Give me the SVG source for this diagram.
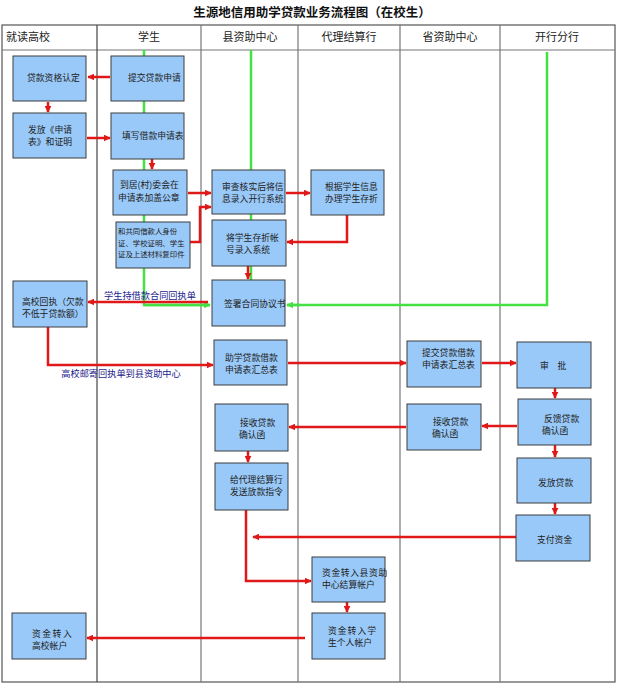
<svg xmlns="http://www.w3.org/2000/svg" width="624" height="690" viewBox="0 0 624 690">
<style>
.bg{fill:#fff}
.frame{stroke:#555;stroke-width:1.2;fill:none}
.div{stroke:#777;stroke-width:1.2}
.title{font-family:"Noto Sans CJK SC",sans-serif;font-size:12.5px;font-weight:bold;fill:#111}
.hd{font-family:"Noto Sans CJK SC",sans-serif;font-size:11px;fill:#222}
.box{fill:#99c9f8;stroke:#3c3c3c;stroke-width:1}
.t{font-family:"Noto Sans CJK SC",sans-serif;font-size:8.8px;fill:#222}
.ts{font-family:"Noto Sans CJK SC",sans-serif;font-size:7.4px;fill:#222}
.lbl{font-family:"Noto Sans CJK SC",sans-serif;font-size:9.2px;fill:#1c1c8c}
.r{stroke:#e01818;stroke-width:2.5;fill:none;marker-end:url(#ar)}
.g{stroke:#44e044;stroke-width:2.5;fill:none}
.ga{marker-end:url(#ag)}
</style>
<defs>
<marker id="ar" viewBox="0 0 10 10" refX="9" refY="5" markerWidth="7" markerHeight="7" orient="auto" markerUnits="userSpaceOnUse"><path d="M0,0 L10,5 L0,10 z" fill="#e01818"/></marker>
<marker id="ag" viewBox="0 0 10 10" refX="9" refY="5" markerWidth="7" markerHeight="7" orient="auto" markerUnits="userSpaceOnUse"><path d="M0,0 L10,5 L0,10 z" fill="#44e044"/></marker>
</defs>
<rect class="bg" x="0" y="0" width="624" height="690"/>
<text class="title" x="312" y="17" text-anchor="middle">生源地信用助学贷款业务流程图（在校生）</text>
<g id="table">
<rect class="frame" x="2" y="25" width="613" height="657"/>
<line class="div" x1="2" y1="50" x2="615" y2="50"/>
<line class="div" x1="97" y1="25" x2="97" y2="682" style="stroke:#444"/>
<line class="div" x1="201" y1="25" x2="201" y2="682"/>
<line class="div" x1="298" y1="25" x2="298" y2="682"/>
<line class="div" x1="400" y1="25" x2="400" y2="682"/>
<line class="div" x1="500" y1="25" x2="500" y2="682"/>
<text class="hd" x="6" y="41">就读高校</text>
<text class="hd" x="149" y="41" text-anchor="middle">学生</text>
<text class="hd" x="250" y="41" text-anchor="middle">县资助中心</text>
<text class="hd" x="349" y="41" text-anchor="middle">代理结算行</text>
<text class="hd" x="450" y="41" text-anchor="middle">省资助中心</text>
<text class="hd" x="557" y="41" text-anchor="middle">开行分行</text>
</g>
<g id="connectors">
<path class="g" d="M144,50 V305 H210"/>
<path class="g ga" d="M144,305 H210"/>
<path class="g" d="M251,50 V280"/>
<path class="g" d="M547,52 V305 H287"/>
<path class="g ga" d="M300,305 H287"/>
<path class="r" d="M110,77 H88"/>
<path class="r" d="M48,102 V112"/>
<path class="r" d="M87,138 H110"/>
<path class="r" d="M152,159 V169"/>
<path class="r" d="M188,193 H211"/>
<path class="r" d="M190,242 H200 V207 H211"/>
<path class="r" d="M286,193 H310"/>
<path class="r" d="M347,215 V242 H287"/>
<path class="r" d="M248,266 V279"/>
<path class="r" d="M208,302 H88"/>
<path class="r" d="M48,327 V365 H213"/>
<path class="r" d="M288,363 H406"/>
<path class="r" d="M482,363 H516"/>
<path class="r" d="M555,388 V398"/>
<path class="r" d="M517,426 H482"/>
<path class="r" d="M406,427 H289"/>
<path class="r" d="M248,451 V462"/>
<path class="r" d="M555,445 V457"/>
<path class="r" d="M555,503 V514"/>
<path class="r" d="M516,537 H253"/>
<path class="r" d="M246,510 V581 H311"/>
<path class="r" d="M347,602 V612"/>
<path class="r" d="M305,638 H87"/>
<text class="lbl" x="150" y="299" text-anchor="middle">学生持借款合同回执单</text>
<text class="lbl" x="121" y="377" text-anchor="middle">高校邮寄回执单到县资助中心</text>
</g>
<g id="n1"><rect class="box" x="13" y="56" width="73" height="45"/><text class="t" x="27" y="81">贷款资格认定</text></g>
<g id="n2"><rect class="box" x="13" y="113" width="73" height="45"/><text class="t" x="28" y="133">发放《申请</text><text class="t" x="28" y="145">表》和证明</text></g>
<g id="n3"><rect class="box" x="111" y="56" width="73" height="45"/><text class="t" x="128" y="81">提交贷款申请</text></g>
<g id="n4"><rect class="box" x="111" y="113" width="73" height="46"/><text class="t" x="122" y="139">填写借款申请表</text></g>
<g id="n5"><rect class="box" x="113" y="170" width="74" height="45"/><text class="t" x="120" y="188">到居(村)委会在</text><text class="t" x="118" y="200.5">申请表加盖公章</text></g>
<g id="n6"><rect class="box" x="116" y="222" width="74" height="46"/><text class="ts" x="118" y="234">和共同借款人身份</text><text class="ts" x="118" y="245.5">证、学校证明、学生</text><text class="ts" x="118" y="257">证及上述材料复印件</text></g>
<g id="n7"><rect class="box" x="212" y="170" width="73" height="44"/><text class="t" x="222" y="189.5">审查核实后将信</text><text class="t" x="222" y="201.5">息录入开行系统</text></g>
<g id="n8"><rect class="box" x="212" y="220" width="74" height="46"/><text class="t" x="226" y="240.5">将学生存折帐</text><text class="t" x="226" y="253">号录入系统</text></g>
<g id="n9"><rect class="box" x="311" y="170" width="73" height="45"/><text class="t" x="325" y="189.5">根据学生信息</text><text class="t" x="325" y="201.5">办理学生存折</text></g>
<g id="n10"><rect class="box" x="212" y="280" width="73" height="46"/><text class="t" x="224" y="306.5">签署合同协议书</text></g>
<g id="n11"><rect class="box" x="13" y="281" width="74" height="46"/><text class="t" x="22" y="304.5">高校回执（欠款</text><text class="t" x="22" y="316.5">不低于贷款额）</text></g>
<g id="n12"><rect class="box" x="214" y="340" width="73" height="45"/><text class="t" x="225" y="360.5">助学贷款借款</text><text class="t" x="225" y="372.5">申请表汇总表</text></g>
<g id="n13"><rect class="box" x="407" y="341" width="74" height="46"/><text class="t" x="422" y="355.5">提交贷款借款</text><text class="t" x="422" y="368">申请表汇总表</text></g>
<g id="n14"><rect class="box" x="517" y="342" width="74" height="46"/><text class="t" x="540" y="369">审　批</text></g>
<g id="n15"><rect class="box" x="407" y="404" width="74" height="46"/><text class="t" x="433" y="424.5">接收贷款</text><text class="t" x="432" y="436.5">确认函</text></g>
<g id="n16"><rect class="box" x="518" y="399" width="73" height="46"/><text class="t" x="544" y="421.5">反馈贷款</text><text class="t" x="542" y="433.5">确认函</text></g>
<g id="n17"><rect class="box" x="215" y="404" width="73" height="47"/><text class="t" x="240" y="425.5">接收贷款</text><text class="t" x="239" y="437.5">确认函</text></g>
<g id="n18"><rect class="box" x="215" y="463" width="73" height="47"/><text class="t" x="230" y="482.5">给代理结算行</text><text class="t" x="230" y="494.5">发送放款指令</text></g>
<g id="n19"><rect class="box" x="517" y="458" width="74" height="45"/><text class="t" x="538" y="485.5">发放贷款</text></g>
<g id="n20"><rect class="box" x="516" y="515" width="74" height="46"/><text class="t" x="537" y="542.5">支付资金</text></g>
<g id="n21"><rect class="box" x="312" y="557" width="73" height="45"/><text class="t" x="322" y="575.5" letter-spacing="0.6">资金转入县资助</text><text class="t" x="322" y="587.5">中心结算帐户</text></g>
<g id="n22"><rect class="box" x="312" y="613" width="73" height="46"/><text class="t" x="328" y="633.5" letter-spacing="1">资金转入学</text><text class="t" x="328" y="646">生个人帐户</text></g>
<g id="n23"><rect class="box" x="12" y="613" width="74" height="46"/><text class="t" x="32" y="636.5" letter-spacing="1.5">资金转入</text><text class="t" x="32" y="648.5">高校帐户</text></g>
</svg>
